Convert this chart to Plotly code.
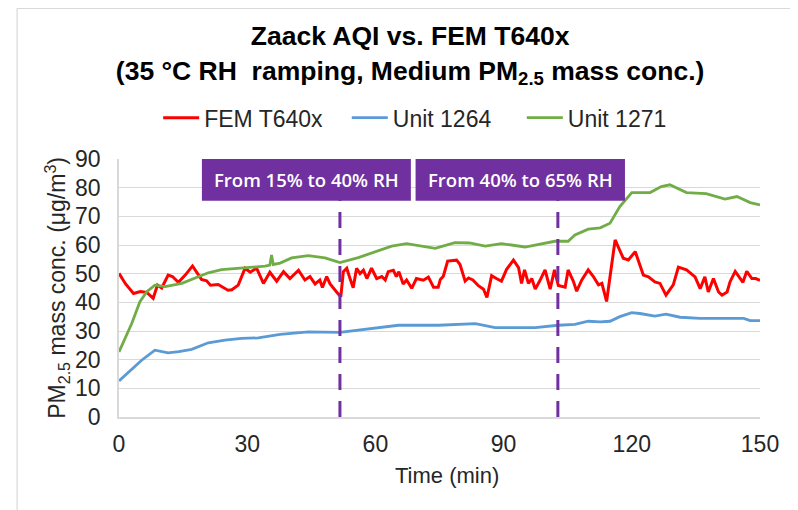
import plotly.graph_objects as go

# ---------------- data ----------------
fem_t = [0, 1.5, 3.4, 5, 6.5, 8, 9, 10, 11.5, 12.5, 13.9, 15.5, 17.2, 18.3, 19.3, 20.5, 21.4, 23.2,
         24.5, 25.5, 26.4, 27.9, 29.5, 30.7, 32.2, 33.8, 35.3, 36.9, 38.5, 40, 42, 43.5, 44.7, 45.9,
         47, 47.6, 48.6, 49.4, 51.3, 51.9, 52.5, 53.3, 54, 54.8, 55.6, 56.4, 57.2, 58, 59.1, 60.3,
         61.5, 62.3, 63, 64.2, 64.9, 65.5, 66.5, 67.3, 68.5, 69.6, 71.2, 72.4, 73.6, 74.7, 75.2,
         75.9, 76.9, 79, 79.8, 81, 81.8, 82.8, 84.1, 85.3, 86.1, 87.2, 88.3, 89.5, 90.7, 92.3, 93.5,
         94.2, 94.9, 95.8, 96.6, 97.4, 98.5, 99.7, 100.9, 101.9, 102.8, 104.4, 105.1, 106.3, 107.1,
         108.3, 109.8, 111, 112.2, 113, 114.1, 116.1, 118, 119.2, 120.8, 122.7, 123.9, 125.4, 126.6,
         128, 129.7, 130.9, 132.8, 134.8, 136, 137.1, 137.9, 139.1, 140.3, 141.1, 142.3, 143, 144.2,
         145.3, 146, 146.9, 148.1, 149, 150]
fem_v = [50.1, 46.5, 43.1, 43.8, 43.5, 41.4, 46, 45, 49.5, 49, 47, 49.5, 52.7, 50, 48, 47.5, 46, 46.2,
         45, 44.2, 44.4, 46, 51.9, 50.5, 51.9, 46.6, 50.5, 47.4, 50.7, 48.3, 51.2, 47.8, 49, 46.4,
         47.8, 45.2, 49, 46.4, 42.9, 42, 50.7, 51.9, 48.6, 45.1, 51.9, 50, 51.2, 48.3, 51.9, 48.3,
         49, 47.8, 50.7, 51.2, 49, 50.7, 46.4, 47.8, 44.9, 48.3, 47.7, 48.8, 45.3, 45.3, 48,
         49.1, 54.4, 54.7, 53.2, 47.4, 48.5, 47.8, 45.8, 44.6, 41.7, 49.3, 48.3, 47.4, 51.5, 54.7, 52.1,
         46.6, 51.3, 46.6, 48.3, 44.6, 47.6, 51.3, 44.6, 51.3, 45.9, 45.3, 51.3, 47.4, 43.9,
         47.8, 51.3, 49, 46.1, 46.6, 40.3, 61.8, 55.4, 54.8, 57.7, 49.5, 48.9, 47.1, 46.6,
         42.5, 46.1, 52.3, 51.3, 48.9, 44.8, 48.9, 43.6, 48.3, 43.6, 42.5, 43.6, 47.2, 50.8,
         48.3, 47, 50.8, 48.3, 48.3, 47.7]

u1264_t = [0, 5.3, 8.4, 11.5, 14, 17, 20.9, 24.8, 28.7, 32.6, 37.7, 44.3, 51.7, 56, 59.9, 65.4, 74.8,
           83.4, 88, 97.4, 102.8, 106.7, 109.8, 112.6, 114.9, 117.2, 120, 121.9, 125.4, 128, 131.3,
           136, 146.2, 147.7, 150]
u1264_v = [12.6, 19.8, 23.3, 22.4, 22.8, 23.6, 25.9, 26.8, 27.4, 27.6, 28.8, 29.7, 29.5, 30.3, 30.9,
           32, 32, 32.6, 31.2, 31.2, 32, 32.3, 33.4, 33.2, 33.4, 35, 36.4, 36.1, 35.2, 35.9, 34.8,
           34.4, 34.4, 33.6, 33.6]

u1271_t = [0, 1.5, 3, 4.9, 6.5, 8.4, 10.8, 14.7, 17.8, 20.9, 24, 30.3, 34.2, 35.3, 35.7, 36.1, 37.7,
           40.4, 44.3, 48.2, 51.7, 56, 59.9, 63.8, 67.3, 70.8, 74, 78.6, 82, 85.7, 89.5, 95, 98.8,
           102, 105.1, 106.7, 109.8, 112.6, 114.9, 117.2, 120, 124.3, 126.9, 128.9, 132.8, 137.4,
           141.8, 144.6, 147.7, 150]
u1271_v = [22.7, 28, 32.7, 40.2, 43.7, 46, 45.5, 46.6, 48.5, 50.3, 51.4, 52, 52.6, 53, 56.5, 53.2, 53.7,
           55.5, 56.3, 55.5, 53.9, 55.6, 57.6, 59.6, 60.5, 59.6, 58.8, 60.8, 60.7, 59.6, 60.5, 59.3, 60.5,
           61.3, 61.3, 63.5, 65.5, 66, 67.6, 73.4, 78.3, 78.3, 80.4, 81, 78.3, 77.9,
           76, 76.9, 74.8, 74]

series_names = ["FEM T640x", "Unit 1264", "Unit 1271"]
x_ticks = [0, 30, 60, 90, 120, 150]
y_ticks = [0, 10, 20, 30, 40, 50, 60, 70, 80, 90]

rh_change_times = [51.7, 102.7]
phase_labels = ["From 15% to 40% RH", "From 40% to 65% RH"]
phase_x0 = [19.4, 69.4]
phase_x1 = [68.3, 118.4]
phase_y = [75.4, 90]

# ---------------- figure ----------------
FONT = "Liberation Sans, Arial, sans-serif"
TXT = "#262626"
RED, BLUE, GREEN, PURPLE = "#FF0000", "#5B9BD5", "#70AD47", "#7030A0"
NB = "\u00a0"
pads = [NB * 3, NB * 4, ""]

fig = go.Figure()
for t, v, name, col, pad in [(fem_t, fem_v, series_names[0], RED, pads[0]),
                             (u1264_t, u1264_v, series_names[1], BLUE, pads[1]),
                             (u1271_t, u1271_v, series_names[2], GREEN, pads[2])]:
    fig.add_trace(go.Scatter(x=t, y=v, mode="lines", name=name + pad,
                             line=dict(color=col, width=3 if col == RED else 2.8)))

shapes = []
for xt in rh_change_times:
    shapes.append(dict(type="line", xref="x", yref="y", x0=xt, x1=xt, y0=0, y1=phase_y[1],
                       line=dict(color=PURPLE, width=3, dash="16px,11px"), layer="above"))
for x0, x1 in zip(phase_x0, phase_x1):
    shapes.append(dict(type="rect", xref="x", yref="y", x0=x0, x1=x1, y0=phase_y[0], y1=phase_y[1],
                       fillcolor=PURPLE, line=dict(width=0), layer="above"))
# chart border (top and left edges visible)
shapes.append(dict(type="line", xref="paper", yref="paper", x0=-0.159, x1=1.1, y0=1.584, y1=1.584,
                   line=dict(color="#D9D9D9", width=1.2), layer="above"))
shapes.append(dict(type="line", xref="paper", yref="paper", x0=-0.159, x1=-0.159, y0=-0.4, y1=1.584,
                   line=dict(color="#D9D9D9", width=1.2), layer="above"))

annotations = []
for x0, x1, lab in zip(phase_x0, phase_x1, phase_labels):
    annotations.append(dict(x=(x0 + x1) / 2, y=(phase_y[0] + phase_y[1]) / 2, xref="x", yref="y",
                            text=lab, showarrow=False,
                            font=dict(family="Open Sans, Lato, sans-serif", size=18.5,
                                      color="white", weight=600)))
annotations.append(dict(x=-0.097, y=0.5, xref="paper", yref="paper", textangle=-90,
                        xanchor="center", yanchor="middle",
                        text="PM<sub>2.5</sub> mass conc. (μg/m<sup>3</sup>)", showarrow=False,
                        font=dict(family=FONT, size=23, color=TXT)))
annotations.append(dict(x=0.512, y=-0.226, xref="paper", yref="paper", text="Time (min)",
                        xanchor="center", yanchor="middle",
                        showarrow=False, font=dict(family=FONT, size=22, color=TXT)))

# the page body adds an 8 px offset; the figure is sized so that the plot area
# lands on the reference position
fig.update_layout(
    width=790, height=502,
    margin=dict(l=111, r=38, t=151, b=93),
    paper_bgcolor="white", plot_bgcolor="white",
    title=dict(text="<b>Zaack AQI vs. FEM T640x<br>(35 °C RH  ramping, Medium PM<sub>2.5</sub> mass conc.)</b>",
               x=0.509, xref="container", y=0.926, yref="container", xanchor="center", yanchor="middle",
               font=dict(family=FONT, size=26.5, color="black")),
    legend=dict(orientation="h", x=0.462, y=1.16, xanchor="center", yanchor="middle",
                font=dict(family=FONT, size=23, color=TXT), itemwidth=36,
                bgcolor="rgba(0,0,0,0)"),
    showlegend=True,
    shapes=shapes, annotations=annotations,
    xaxis=dict(range=[0, 150], tickvals=x_ticks, showgrid=False, zeroline=False,
               showline=True, linecolor="#D9D9D9", linewidth=1.5, ticks="", ticklabelstandoff=6,
               tickfont=dict(family=FONT, size=23, color=TXT)),
    yaxis=dict(range=[0, 90], tickvals=y_ticks, showgrid=True, gridcolor="#D9D9D9", gridwidth=1.3,
               zeroline=False, showline=True, linecolor="#D9D9D9", linewidth=1.5, ticks="",
               ticklabelstandoff=12,
               tickfont=dict(family=FONT, size=23, color=TXT)),
)

fig.write_html("out.html")
